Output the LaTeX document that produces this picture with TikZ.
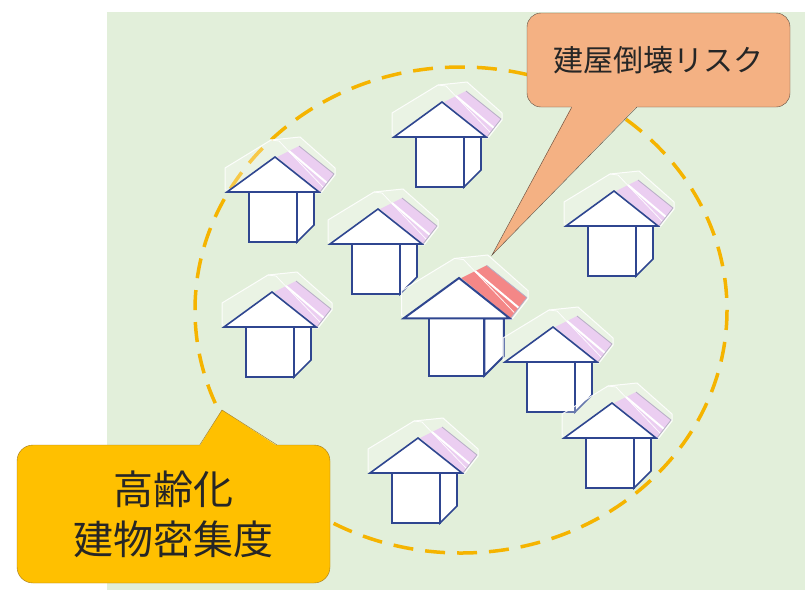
\documentclass[tikz,border=0pt]{standalone}
\usepackage{fontspec}
\setmainfont{Noto Sans CJK JP}

\definecolor{fieldgreen}{HTML}{E2EFDA}
\definecolor{ringorange}{HTML}{F5B400}
\definecolor{wallblue}{HTML}{2F4690}
\definecolor{roofpink}{HTML}{E4BCEC}
\definecolor{roofred}{HTML}{F05A5A}
\definecolor{roofedge}{HTML}{9C8FB0}
\definecolor{riskpeach}{HTML}{F4B183}
\definecolor{riskedge}{HTML}{5E4E42}
\definecolor{agingamber}{HTML}{FFC000}
\definecolor{agingedge}{HTML}{A0781C}

\tikzset{
  wall/.style={draw=wallblue,line width=1.6pt,fill=white,line join=miter},
  cover/.style={fill=white,fill opacity=0.28,draw=white,draw opacity=0.9,line width=1pt},
  ring/.style={ringorange,line width=3.5pt,dash pattern=on 20pt off 12pt},
  % a small house; #1 is the colour of the back slope
  pics/house/.style={code={
    \fill[#1] (2,0) -- (24,-11) -- (59,17) -- (45,35) -- cycle;
    \draw[white,line width=2pt] (14,-6) -- (52,26);
    \draw[roofedge,line width=0.8pt] (24,-11) -- (59,17) -- (45,35);
    % clear roof sheet
    \path[cover] (-50,33) -- (-50,11) -- (-4,-17) -- (25,-20) -- (60,11) -- (60,18) -- (46,36) -- cycle;
    \draw[white,opacity=0.9,line width=0.8pt] (-4,-17) -- (4,-16) -- (48,30);
    % side, front and gable
    \path[wall] (22,35) -- (39,35) -- (39,68) -- (22,85) -- cycle;
    \path[wall] (-26,35) rectangle (22,85);
    \path[wall] (-48,35) -- (0,0) -- (44,35) -- cycle;
  }}
}

\begin{document}
\begin{tikzpicture}[x=1pt,y=-1pt]
  \useasboundingbox (0,0) rectangle (805,590);
  \fill[fieldgreen] (107,12) rectangle (805,590);

  \draw[ring] (461,310) ellipse [x radius=266,y radius=243];

  \pic at (442,102) {house=roofpink};
  \pic at (275,157) {house=roofpink};
  \pic at (614,191) {house=roofpink};
  \pic at (378,209) {house=roofpink};
  \pic at (272,292) {house=roofpink};
  \pic[scale=1.15,wall/.append style={line width=2pt}] at (459,278) {house=roofred};
  \pic at (553,327) {house=roofpink};
  \pic at (612,403) {house=roofpink};
  \pic at (418,438) {house=roofpink};

  \coordinate (riskTip) at (492,255);
  \coordinate (agingTip) at (222,410);

  \node[draw=riskedge,fill=riskpeach,rounded corners=14pt,minimum width=263pt,minimum height=94pt,
        text=black!85,font=\fontsize{30}{36}\selectfont] (risk) at (658.5,60) {建屋倒壊リスク};
  \fill[riskpeach] ([xshift=45pt,yshift=1pt]risk.south west) -- (riskTip) -- ([xshift=110pt,yshift=1pt]risk.south west) -- cycle;
  \draw[riskedge] ([xshift=45pt]risk.south west) -- (riskTip) -- ([xshift=110pt]risk.south west);

  \node[draw=agingedge,fill=agingamber,rounded corners=16pt,minimum width=313pt,minimum height=138pt,
        align=center,text=black!85,font=\fontsize{40}{50}\selectfont] (aging) at (173.5,514) {高齢化\\建物密集度};
  \fill[agingamber] ([xshift=183pt,yshift=-1pt]aging.north west) -- (agingTip) -- ([xshift=260pt,yshift=-1pt]aging.north west) -- cycle;
  \draw[agingedge] ([xshift=183pt]aging.north west) -- (agingTip) -- ([xshift=260pt]aging.north west);
\end{tikzpicture}
\end{document}
